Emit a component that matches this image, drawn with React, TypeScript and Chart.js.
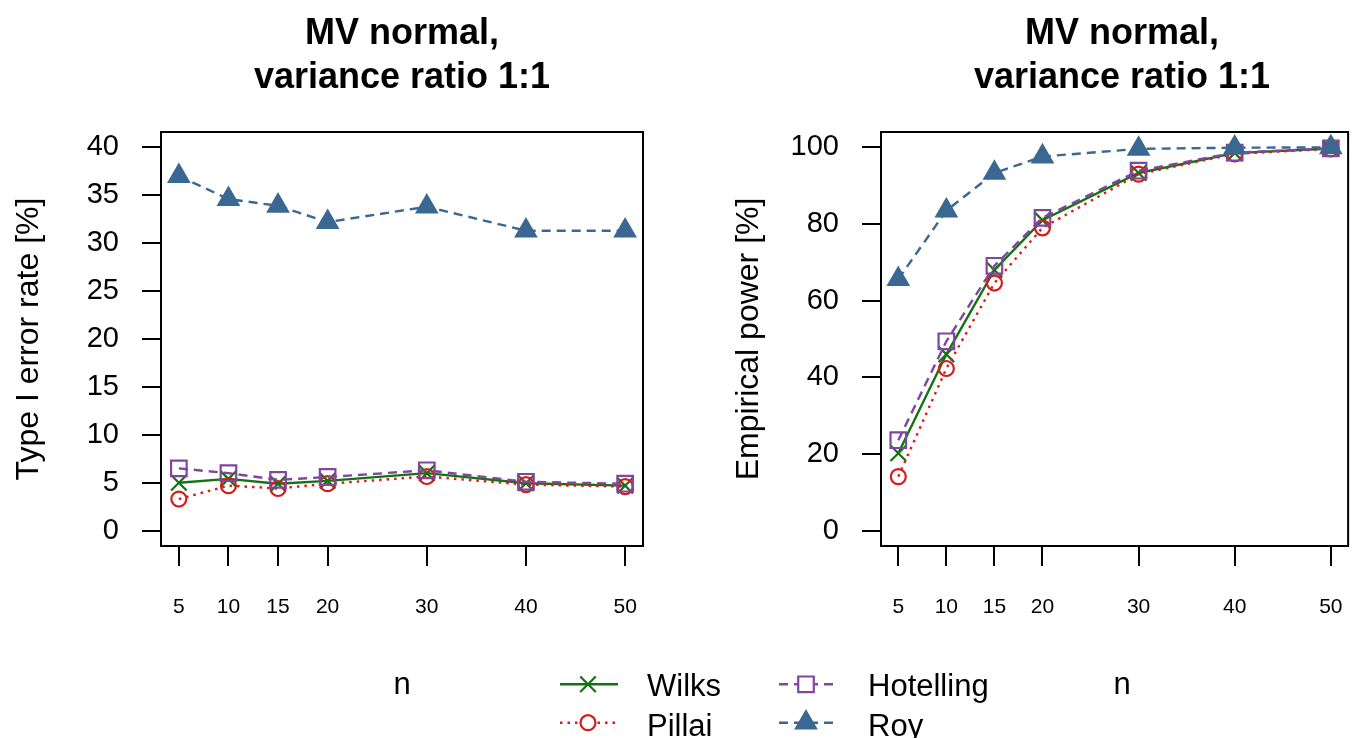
import React, { useEffect, useRef } from 'react';
import { Chart, registerables } from 'chart.js';
import { drawPoint } from 'chart.js/helpers';

Chart.register(...registerables);

// ---------------- data ----------------
const N_VALUES = [5, 10, 15, 20, 30, 40, 50];
const X_TICKS = [5, 10, 15, 20, 30, 40, 50];
const TYPE1_Y_TICKS = [0, 5, 10, 15, 20, 25, 30, 35, 40];
const POWER_Y_TICKS = [0, 20, 40, 60, 80, 100];

const SERIES_NAMES = ['Wilks', 'Pillai', 'Hotelling', 'Roy'];

const WILKS_TYPE1 = [5.0, 5.4, 4.9, 5.2, 6.0, 4.95, 4.7];
const PILLAI_TYPE1 = [3.3, 4.7, 4.4, 4.9, 5.65, 4.8, 4.6];
const HOTELLING_TYPE1 = [6.5, 6.0, 5.3, 5.6, 6.3, 5.1, 4.9];
const ROY_TYPE1 = [37.0, 34.6, 33.9, 32.2, 33.8, 31.3, 31.3];

const WILKS_POWER = [20.2, 46.0, 68.0, 81.0, 93.3, 98.5, 99.7];
const PILLAI_POWER = [14.1, 42.3, 64.6, 79.0, 93.0, 98.3, 99.6];
const HOTELLING_POWER = [23.6, 49.4, 69.1, 81.6, 93.9, 98.6, 99.7];
const ROY_POWER = [65.6, 83.5, 93.3, 97.6, 99.6, 99.9, 100.0];

const TITLE_LINE_1 = 'MV normal,';
const TITLE_LINE_2 = 'variance ratio 1:1';
const Y_TITLE_LEFT = 'Type I error rate [%]';
const Y_TITLE_RIGHT = 'Empirical power [%]';
const X_TITLE = 'n';

// ---------------- styles ----------------
const FONT = '"Liberation Sans", Arial, Helvetica, sans-serif';
const STYLES = [
  { color: '#137313', dash: [] as number[], pointStyle: 'crossRot', radius: 11, filled: false, order: 3 },
  { color: '#d41c1c', dash: [2.5, 5], pointStyle: 'circle', radius: 7.5, filled: false, order: 2 },
  { color: '#8046a0', dash: [9, 6], pointStyle: 'rect', radius: 11, filled: false, order: 1 },
  { color: '#3a6892', dash: [9, 6], pointStyle: 'triangle', radius: 11.5, filled: true, order: 0 },
];

const boxPlugin = {
  id: 'plotBox',
  afterDraw(chart: any) {
    const { ctx, chartArea } = chart;
    ctx.save();
    ctx.strokeStyle = '#000';
    ctx.lineWidth = 2;
    ctx.setLineDash([]);
    ctx.strokeRect(chartArea.left, chartArea.top, chartArea.right - chartArea.left, chartArea.bottom - chartArea.top);
    ctx.restore();
  },
};

function makeConfig(series: number[][], yMin: number, yMax: number, yTicks: number[], yWidth: number, padRight: number): any {
  return {
    type: 'line',
    data: {
      datasets: series.map((vals, i) => {
        const st = STYLES[i];
        return {
          label: SERIES_NAMES[i],
          data: N_VALUES.map((x, j) => ({ x, y: vals[j] })),
          borderColor: st.color,
          borderWidth: 2.4,
          borderDash: st.dash,
          tension: 0,
          fill: false,
          pointStyle: st.pointStyle,
          pointRadius: st.radius,
          pointHoverRadius: st.radius,
          pointBorderWidth: 2.2,
          pointBorderColor: st.color,
          pointBackgroundColor: st.filled ? st.color : 'rgba(0,0,0,0)',
          order: st.order,
          clip: false,
        };
      }),
    },
    options: {
      animation: false,
      responsive: false,
      devicePixelRatio: 1,
      events: [],
      layout: { padding: { top: 132, right: padRight, bottom: 0, left: 0 } },
      plugins: { legend: { display: false }, tooltip: { enabled: false }, title: { display: false } },
      scales: {
        x: {
          type: 'linear',
          min: 3.2,
          max: 51.8,
          afterBuildTicks: (s: any) => { s.ticks = X_TICKS.map((value) => ({ value })); },
          afterFit: (s: any) => { s.height = 192; },
          grid: { drawOnChartArea: false, drawTicks: true, tickLength: 20, color: '#000', lineWidth: 2 },
          border: { display: true, color: '#000', width: 2 },
          ticks: { font: { family: FONT, size: 21 }, color: '#000', padding: 29, maxRotation: 0, autoSkip: false, callback: (v: any) => String(v) },
        },
        y: {
          type: 'linear',
          min: yMin,
          max: yMax,
          afterBuildTicks: (s: any) => { s.ticks = yTicks.map((value) => ({ value })); },
          afterFit: (s: any) => { s.width = yWidth; },
          grid: { drawOnChartArea: false, drawTicks: true, tickLength: 19, color: '#000', lineWidth: 2 },
          border: { display: true, color: '#000', width: 2 },
          ticks: { font: { family: FONT, size: 29 }, color: '#000', padding: 23, autoSkip: false, callback: (v: any) => String(v) },
        },
      },
    },
    plugins: [boxPlugin],
  };
}

function ChartCanvas({ config, left }: { config: any; left: number }) {
  const ref = useRef<HTMLCanvasElement | null>(null);
  useEffect(() => {
    if (!ref.current) return;
    const chart = new Chart(ref.current, config);
    return () => chart.destroy();
  }, []);
  return (
    <canvas
      ref={ref}
      width={686}
      height={738}
      style={{ position: 'absolute', left, top: 0, width: 686, height: 738 }}
    />
  );
}

function LegendSamples() {
  const ref = useRef<HTMLCanvasElement | null>(null);
  useEffect(() => {
    const c = ref.current;
    if (!c) return;
    const ctx = c.getContext('2d');
    if (!ctx) return;
    ctx.clearRect(0, 0, c.width, c.height);
    const items = [
      { x0: 10, x1: 68, xm: 38, y: 19.3 },
      { x0: 10, x1: 68, xm: 38, y: 57.7 },
      { x0: 229, x1: 283, xm: 256, y: 19.3 },
      { x0: 229, x1: 283, xm: 256, y: 57.7 },
    ];
    items.forEach((it, i) => {
      const st = STYLES[i];
      ctx.save();
      ctx.strokeStyle = st.color;
      ctx.lineWidth = 2.4;
      ctx.setLineDash(st.dash);
      ctx.beginPath();
      ctx.moveTo(it.x0, it.y);
      ctx.lineTo(it.x1, it.y);
      ctx.stroke();
      ctx.restore();
      ctx.save();
      ctx.setLineDash([]);
      ctx.strokeStyle = st.color;
      ctx.fillStyle = st.filled ? st.color : '#ffffff';
      ctx.lineWidth = 2.2;
      drawPoint(ctx, { pointStyle: st.pointStyle as any, radius: st.radius, borderWidth: 2.2, rotation: 0 } as any, it.xm, it.y);
      ctx.restore();
    });
  }, []);
  return (
    <canvas ref={ref} width={300} height={73} style={{ position: 'absolute', left: 550, top: 665, width: 300, height: 73 }} />
  );
}

const textBase: React.CSSProperties = {
  position: 'absolute',
  fontFamily: FONT,
  color: '#000',
  whiteSpace: 'nowrap',
  margin: 0,
};

export default function App() {
  const leftCfg = makeConfig([WILKS_TYPE1, PILLAI_TYPE1, HOTELLING_TYPE1, ROY_TYPE1], -1.6, 41.6, TYPE1_Y_TICKS, 161, 43);
  const rightCfg = makeConfig([WILKS_POWER, PILLAI_POWER, HOTELLING_POWER, ROY_POWER], -4, 104, POWER_Y_TICKS, 195, 9);

  const title = (cx: number) => (
    <div style={{ ...textBase, left: cx - 300, width: 600, top: 10, textAlign: 'center', fontWeight: 'bold', fontSize: 36, lineHeight: '44px' }}>
      {TITLE_LINE_1}
      <br />
      {TITLE_LINE_2}
    </div>
  );
  const yTitle = (cx: number, text: string) => (
    <div style={{ ...textBase, left: cx - 200, top: 339 - 18, width: 400, height: 36, lineHeight: '36px', fontSize: 32, textAlign: 'center', transform: 'rotate(-90deg)', transformOrigin: '50% 50%' }}>
      {text}
    </div>
  );
  const xTitle = (cx: number) => (
    <div style={{ ...textBase, left: cx - 50, width: 100, top: 666.2, lineHeight: '36px', fontSize: 31, textAlign: 'center' }}>{X_TITLE}</div>
  );
  const legText = (x: number, top: number, text: string) => (
    <div style={{ ...textBase, left: x, top, lineHeight: '36px', fontSize: 31 }}>{text}</div>
  );

  return (
    <div style={{ position: 'fixed', left: 0, top: 0, width: 1372, height: 738, overflow: 'hidden', background: '#fff' }}>
      <ChartCanvas config={leftCfg} left={0} />
      <ChartCanvas config={rightCfg} left={686} />
      {title(402)}
      {title(1122)}
      {yTitle(27, Y_TITLE_LEFT)}
      {yTitle(747, Y_TITLE_RIGHT)}
      {xTitle(402)}
      {xTitle(1122)}
      <LegendSamples />
      {legText(647, 668, SERIES_NAMES[0])}
      {legText(647, 708, SERIES_NAMES[1])}
      {legText(868, 668, SERIES_NAMES[2])}
      {legText(868, 708, SERIES_NAMES[3])}
    </div>
  );
}
